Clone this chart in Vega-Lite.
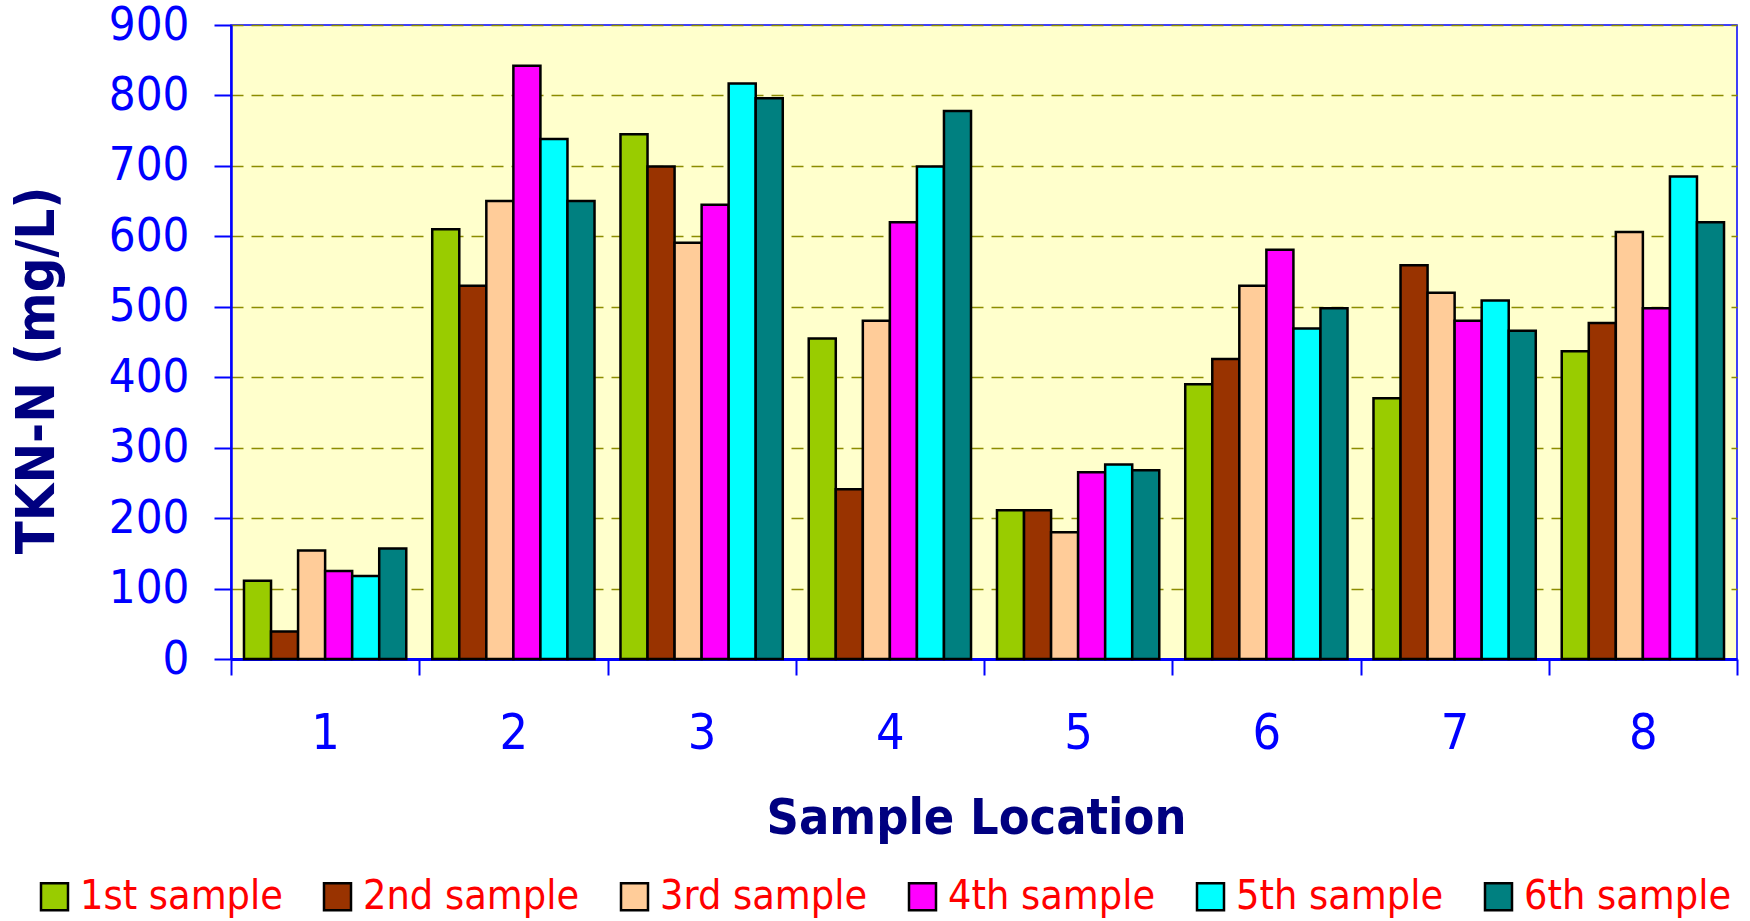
{
  "$schema": "https://vega.github.io/schema/vega-lite/v6.json",
  "width": 1506,
  "height": 634,
  "autosize": {"type": "none"},
  "padding": {"left": 231, "top": 25, "right": 13, "bottom": 262},
  "background": "white",
  "data": {
    "values": [
      {"location": 1, "sample": "1st sample", "tkn": 111},
      {"location": 1, "sample": "2nd sample", "tkn": 39},
      {"location": 1, "sample": "3rd sample", "tkn": 154},
      {"location": 1, "sample": "4th sample", "tkn": 125},
      {"location": 1, "sample": "5th sample", "tkn": 118},
      {"location": 1, "sample": "6th sample", "tkn": 157},
      {"location": 2, "sample": "1st sample", "tkn": 610},
      {"location": 2, "sample": "2nd sample", "tkn": 530},
      {"location": 2, "sample": "3rd sample", "tkn": 650},
      {"location": 2, "sample": "4th sample", "tkn": 842},
      {"location": 2, "sample": "5th sample", "tkn": 738},
      {"location": 2, "sample": "6th sample", "tkn": 650},
      {"location": 3, "sample": "1st sample", "tkn": 745},
      {"location": 3, "sample": "2nd sample", "tkn": 699},
      {"location": 3, "sample": "3rd sample", "tkn": 591},
      {"location": 3, "sample": "4th sample", "tkn": 645},
      {"location": 3, "sample": "5th sample", "tkn": 817},
      {"location": 3, "sample": "6th sample", "tkn": 796},
      {"location": 4, "sample": "1st sample", "tkn": 455},
      {"location": 4, "sample": "2nd sample", "tkn": 241},
      {"location": 4, "sample": "3rd sample", "tkn": 480},
      {"location": 4, "sample": "4th sample", "tkn": 620},
      {"location": 4, "sample": "5th sample", "tkn": 699},
      {"location": 4, "sample": "6th sample", "tkn": 778},
      {"location": 5, "sample": "1st sample", "tkn": 211},
      {"location": 5, "sample": "2nd sample", "tkn": 211},
      {"location": 5, "sample": "3rd sample", "tkn": 180},
      {"location": 5, "sample": "4th sample", "tkn": 265},
      {"location": 5, "sample": "5th sample", "tkn": 276},
      {"location": 5, "sample": "6th sample", "tkn": 268},
      {"location": 6, "sample": "1st sample", "tkn": 390},
      {"location": 6, "sample": "2nd sample", "tkn": 426},
      {"location": 6, "sample": "3rd sample", "tkn": 530},
      {"location": 6, "sample": "4th sample", "tkn": 581},
      {"location": 6, "sample": "5th sample", "tkn": 469},
      {"location": 6, "sample": "6th sample", "tkn": 498},
      {"location": 7, "sample": "1st sample", "tkn": 370},
      {"location": 7, "sample": "2nd sample", "tkn": 559},
      {"location": 7, "sample": "3rd sample", "tkn": 520},
      {"location": 7, "sample": "4th sample", "tkn": 480},
      {"location": 7, "sample": "5th sample", "tkn": 509},
      {"location": 7, "sample": "6th sample", "tkn": 466},
      {"location": 8, "sample": "1st sample", "tkn": 437},
      {"location": 8, "sample": "2nd sample", "tkn": 477},
      {"location": 8, "sample": "3rd sample", "tkn": 606},
      {"location": 8, "sample": "4th sample", "tkn": 498},
      {"location": 8, "sample": "5th sample", "tkn": 685},
      {"location": 8, "sample": "6th sample", "tkn": 620}
    ]
  },
  "mark": {"type": "bar", "stroke": "black", "strokeWidth": 2.5},
  "encoding": {
    "x": {
      "field": "location",
      "type": "ordinal",
      "scale": {"paddingInner": 0, "paddingOuter": 0},
      "axis": {
        "title": "Sample Location",
        "labelAngle": 0,
        "tickBand": "extent",
        "grid": false,
        "domainColor": "#0000FF",
        "domainWidth": 3,
        "tickColor": "#0000FF",
        "tickSize": 16,
        "tickWidth": 2,
        "labelColor": "#0000FF",
        "labelFont": "DejaVu Sans Condensed",
        "labelFontSize": 50,
        "labelPadding": 73,
        "labelBaseline": "alphabetic",
        "titleFont": "DejaVu Sans Condensed",
        "titleFontWeight": "bold",
        "titleFontSize": 50,
        "titleColor": "#000080",
        "titleX": 745,
        "titleY": 174,
        "titleBaseline": "alphabetic",
        "titleAlign": "center"
      }
    },
    "xOffset": {
      "field": "sample",
      "type": "nominal",
      "scale": {"paddingInner": 0, "paddingOuter": 0.48}
    },
    "y": {
      "field": "tkn",
      "type": "quantitative",
      "scale": {"domain": [0, 900], "nice": false},
      "axis": {
        "title": "TKN-N (mg/L)",
        "values": [0, 100, 200, 300, 400, 500, 600, 700, 800, 900],
        "grid": true,
        "gridColor": "#8C8C00",
        "gridDash": [12, 8],
        "gridWidth": 1.5,
        "domainColor": "#0000FF",
        "domainWidth": 2.5,
        "tickColor": "#0000FF",
        "tickSize": 17,
        "tickWidth": 2,
        "labelColor": "#0000FF",
        "labelFont": "DejaVu Sans Condensed",
        "labelFontSize": 47,
        "labelPadding": 25,
        "titleFont": "DejaVu Sans Condensed",
        "titleFontWeight": "bold",
        "titleFontSize": 54,
        "titleColor": "#000080",
        "titleAngle": 270,
        "titleX": -194,
        "titleY": 345,
        "titleBaseline": "middle",
        "titleAlign": "center"
      }
    },
    "color": {
      "field": "sample",
      "type": "nominal",
      "scale": {
        "domain": ["1st sample", "2nd sample", "3rd sample", "4th sample", "5th sample", "6th sample"],
        "range": ["#99CC00", "#993300", "#FFCC99", "#FF00FF", "#00FFFF", "#008080"]
      },
      "legend": {
        "orient": "none",
        "legendX": -197,
        "legendY": 851,
        "direction": "horizontal",
        "columns": 6,
        "title": null,
        "symbolType": "square",
        "symbolSize": 729,
        "symbolStrokeColor": "black",
        "symbolStrokeWidth": 2.5,
        "symbolOpacity": 1,
        "labelColor": "#FF0000",
        "labelFont": "DejaVu Sans Condensed",
        "labelFontSize": 41,
        "labelOffset": 5,
        "labelLimit": 400,
        "columnPadding": 34
      }
    }
  },
  "config": {
    "view": {"fill": "#FFFFCC", "stroke": "#0000FF", "strokeWidth": 1.5}
  }
}
